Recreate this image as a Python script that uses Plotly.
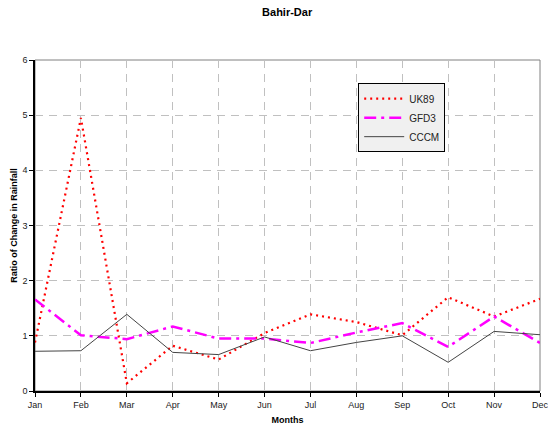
import plotly.graph_objects as go

months = ["Jan", "Feb", "Mar", "Apr", "May", "Jun", "Jul", "Aug", "Sep", "Oct", "Nov", "Dec"]
uk89 = [0.88, 4.95, 0.14, 0.82, 0.57, 1.05, 1.39, 1.25, 1.01, 1.70, 1.35, 1.67]
gfd3 = [1.66, 1.01, 0.94, 1.17, 0.95, 0.95, 0.87, 1.06, 1.23, 0.80, 1.35, 0.87]
cccm = [0.72, 0.73, 1.39, 0.70, 0.66, 0.98, 0.73, 0.88, 1.00, 0.52, 1.08, 1.02]

fig = go.Figure()
fig.add_trace(go.Scatter(x=months, y=uk89, name="UK89", mode="lines",
                         line=dict(color="#ff0000", width=2.2, dash="2px,4px")))
fig.add_trace(go.Scatter(x=months, y=gfd3, name="GFD3", mode="lines",
                         line=dict(color="#ff00ff", width=2.5, dash="12px,5px,3px,5px")))
fig.add_trace(go.Scatter(x=months, y=cccm, name="CCCM", mode="lines",
                         line=dict(color="#444444", width=1)))

fig.add_shape(type="rect", xref="paper", yref="paper", x0=0, y0=0, x1=1, y1=1,
              line=dict(color="#808080", width=1), layer="below")

fig.update_layout(
    width=548, height=431,
    margin=dict(l=35, r=8, t=60, b=40),
    paper_bgcolor="white", plot_bgcolor="white",
    font=dict(family="Liberation Sans, Arial, sans-serif", size=9, color="#222222"),
    title=dict(text="<b>Bahir-Dar</b>", x=0.524, xanchor="center", y=0.972, yanchor="middle",
               yref="container", font=dict(size=11, color="#000000"), automargin=False),
    legend=dict(x=0.64, y=0.93, xanchor="left", yanchor="top",
                bgcolor="#f0f0f0", bordercolor="#000000", borderwidth=1,
                font=dict(size=10, color="#222222"), itemwidth=40, tracegroupgap=0),
    xaxis=dict(type="category", range=[0, 11], showgrid=True, automargin=False,
               gridcolor="#c0c0c0", griddash="8px,6px", gridwidth=1,
               showline=True, linecolor="#000000", linewidth=1.5,
               ticks="outside", ticklen=4, tickcolor="#000000",
               title=dict(text="<b>Months</b>", font=dict(size=9, color="#000000"), standoff=8),
               zeroline=False),
    yaxis=dict(range=[0, 6], dtick=1, showgrid=True, automargin=False,
               gridcolor="#c0c0c0", griddash="8px,6px", gridwidth=1,
               showline=True, linecolor="#000000", linewidth=1.5,
               ticks="outside", ticklen=4, tickcolor="#000000",
               title=dict(text="<b>Ratio of Change in Rainfall</b>", font=dict(size=9, color="#000000"), standoff=3),
               zeroline=False),
)

fig.write_html("out.html", config={"displayModeBar": False},
               post_script="document.body.style.margin='0';document.body.style.overflow='hidden';")
